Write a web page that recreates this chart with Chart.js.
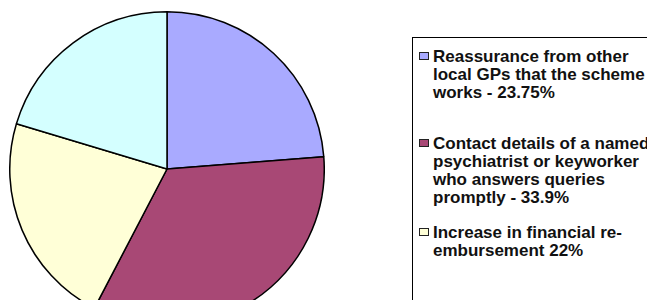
<!DOCTYPE html>
<html>
<head>
<meta charset="utf-8">
<script src="https://cdn.jsdelivr.net/npm/chart.js@4"></script>
<style>
  html, body { margin: 0; padding: 0; background: #fff; }
  body { width: 647px; height: 300px; overflow: hidden; position: relative; }
  #pieWrap { position: absolute; left: 9px; top: 11px; width: 316px; height: 316px; }
  #legend {
    position: absolute; left: 412px; top: 37px; width: 300px; height: 320px;
    border: 1px solid #000; box-sizing: border-box;
    font-family: "Liberation Sans", Arial, sans-serif; font-weight: bold;
    font-size: 17px; line-height: 18px; color: #111; white-space: nowrap;
  }
  .item { position: absolute; left: 20px; }
  .box { position: absolute; left: -14px; top: 4px; width: 10px; height: 8px; border: 1px solid #222; box-sizing: border-box; }
</style>
</head>
<body>
<div id="pieWrap"><canvas id="pie" width="316" height="316"></canvas></div>
<div id="legend"></div>
<script>
const labels = [
  ['Reassurance from other', 'local GPs that the scheme', 'works - 23.75%'],
  ['Contact details of a named', 'psychiatrist or keyworker', 'who answers queries', 'promptly - 33.9%'],
  ['Increase in financial re-', 'embursement 22%'],
  ['Other - 20.35%']
];
const values = [23.75, 33.9, 22, 20.35];
const colors = ['#A9AAFF', '#A84875', '#FFFFD7', '#D4FFFF'];
const legendTops = [10, 97, 186, 262];

const ctx = document.getElementById('pie').getContext('2d');
const chart = new Chart(ctx, {
  type: 'pie',
  data: {
    labels: labels.map(l => l.join(' ')),
    datasets: [{
      data: values,
      backgroundColor: colors,
      borderColor: '#000',
      borderWidth: 1.5
    }]
  },
  options: {
    responsive: false,
    animation: false,
    layout: { padding: 0 },
    plugins: {
      legend: { display: false },
      tooltip: { enabled: false }
    }
  }
});

// legend built from the same arrays
const legend = document.getElementById('legend');
labels.forEach((lines, i) => {
  const item = document.createElement('div');
  item.className = 'item';
  item.style.top = legendTops[i] + 'px';
  const box = document.createElement('span');
  box.className = 'box';
  box.style.background = colors[i];
  item.appendChild(box);
  item.insertAdjacentHTML('beforeend', lines.join('<br>'));
  legend.appendChild(item);
});
</script>
</body>
</html>
